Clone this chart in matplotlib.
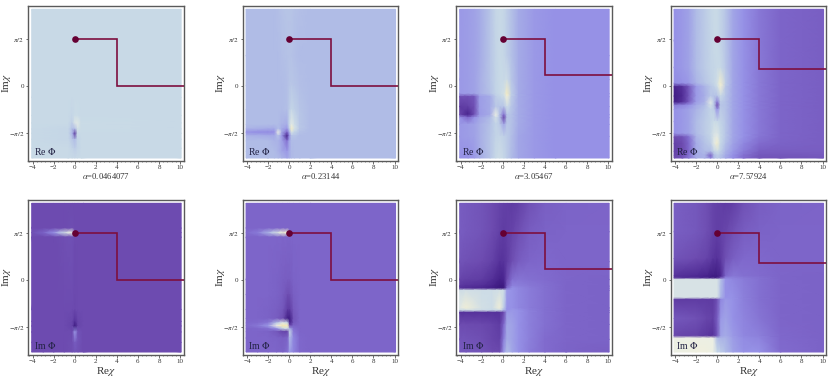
import matplotlib
matplotlib.use('Agg')
import numpy as np
import matplotlib.pyplot as plt
from matplotlib.colors import LinearSegmentedColormap
from matplotlib.ticker import AutoMinorLocator

plt.rcParams['font.family'] = ['Liberation Serif', 'DejaVu Serif']
plt.rcParams['mathtext.fontset'] = 'stix'

# shared colour scale of the density plots
scale_pos = [0.0, 0.15, 0.3, 0.4, 0.5, 0.6, 0.7, 0.85, 1.0]
scale_col = ['#2e0e6e', '#4a2590', '#6d4cb0', '#7f68cc', '#9590e6',
             '#b0bce6', '#c7d9e6', '#eef0e4', '#f8e7a8']

# values, rows from top to bottom
# --- Re, alpha=0.0464077
a_x = [-4.1, -0.6, -0.25, 0, 0.25, 0.6, 10.1]
a_y = [2.55, -0.4, -1.0, -1.25, -1.45, -1.6, -1.8, -2.1, -2.42]
a_v = [[.7, .7, .7, .7, .7, .7, .7],
       [.7, .7, .7, .7, .7, .7, .7],
       [.7, .7, .69, .71, .71, .7, .7],
       [.7, .7, .67, .78, .8, .71, .7],
       [.7, .69, .61, .6, .74, .71, .7],
       [.7, .69, .58, .22, .7, .7, .7],
       [.7, .69, .64, .6, .68, .7, .7],
       [.7, .7, .68, .66, .68, .7, .7],
       [.7, .7, .7, .7, .7, .7, .7]]

# --- Re, alpha=0.23144
b_x = [-4.1, -2, -1.4, -1.05, -0.7, -0.2, 0, 0.2, 0.5, 1, 2, 10.1]
b_y = [2.55, 1, 0, -0.8, -1.3, -1.44, -1.56, -1.68, -1.85, -2.2, -2.42]
b_v = [[.6, .6, .6, .61, .62, .63, .63, .63, .62, .61, .6, .6],
       [.6, .6, .6, .6, .61, .62, .62, .62, .61, .6, .6, .6],
       [.6, .6, .6, .6, .6, .61, .63, .64, .63, .61, .6, .6],
       [.6, .6, .6, .6, .6, .61, .65, .69, .67, .63, .6, .6],
       [.6, .6, .6, .6, .58, .57, .69, .81, .73, .64, .6, .6],
       [.58, .56, .56, .6, .56, .52, .65, .92, .75, .64, .6, .6],
       [.5, .49, .5, .84, .55, .4, .55, .75, .68, .62, .6, .6],
       [.58, .56, .56, .62, .52, .12, .48, .62, .63, .6, .6, .6],
       [.6, .6, .58, .58, .54, .42, .54, .6, .6, .6, .6, .6],
       [.6, .6, .6, .58, .55, .52, .56, .59, .6, .6, .6, .6],
       [.6, .6, .6, .6, .58, .55, .57, .59, .6, .6, .6, .6]]

# --- Re, alpha=3.05467
c_x = [-4.1, -3.3, -2.7, -2.2, -1.2, -0.66, -0.3, 0.1, 0.4, 0.8, 1.5, 3, 5, 10.1]
c_y = [2.55, 1.0, 0.2, -0.27, -0.37, -0.7, -0.97, -1.07, -1.3, -1.7, -2.42]
c_v = [[.52, .53, .54, .56, .63, .69, .7, .69, .66, .62, .56, .52, .5, .5],
       [.52, .53, .54, .56, .63, .68, .7, .69, .66, .62, .56, .52, .5, .5],
       [.52, .53, .54, .57, .63, .68, .7, .7, .72, .64, .56, .52, .5, .5],
       [.52, .53, .54, .57, .62, .68, .7, .74, .93, .67, .56, .52, .5, .5],
       [.32, .32, .34, .53, .56, .66, .68, .72, .88, .66, .56, .52, .5, .5],
       [.24, .26, .32, .53, .56, .64, .63, .63, .72, .64, .56, .52, .5, .5],
       [.28, .14, .32, .52, .56, .84, .62, .42, .63, .62, .56, .52, .5, .5],
       [.5, .4, .5, .55, .6, .74, .62, .28, .62, .62, .56, .52, .5, .5],
       [.52, .53, .54, .57, .62, .68, .65, .55, .64, .62, .56, .52, .5, .5],
       [.52, .53, .54, .57, .63, .68, .69, .67, .65, .61, .55, .52, .5, .5],
       [.5, .5, .52, .56, .63, .7, .72, .69, .65, .6, .55, .52, .5, .5]]

# --- Re, alpha=7.57924
d_x = [-4.1, -3.3, -2.7, -2, -1.2, -.63, -.3, 0, .3, .8, 1.5, 2.5, 4, 6, 10.1]
d_y = [2.55, 1.5, .6, .08, -.04, -.35, -.55, -.66, -.8, -1.2, -1.6, -1.72, -1.94, -2.2, -2.33, -2.42]
d_v = [[.5, .52, .54, .6, .65, .69, .7, .7, .68, .63, .55, .5, .44, .39, .37],
       [.5, .52, .54, .6, .65, .68, .7, .7, .68, .63, .55, .5, .44, .39, .37],
       [.5, .52, .54, .6, .65, .68, .69, .7, .7, .64, .55, .5, .44, .39, .37],
       [.49, .5, .52, .58, .63, .67, .69, .74, .9, .66, .55, .5, .44, .39, .37],
       [.14, .2, .34, .52, .58, .64, .67, .72, .88, .64, .55, .5, .44, .39, .37],
       [.1, .18, .34, .52, .57, .64, .62, .62, .7, .63, .55, .5, .44, .39, .37],
       [.12, .2, .36, .53, .58, .8, .64, .44, .65, .62, .55, .5, .44, .39, .37],
       [.45, .47, .5, .56, .6, .74, .64, .3, .63, .62, .55, .5, .44, .39, .37],
       [.5, .52, .54, .58, .63, .68, .66, .5, .65, .62, .55, .5, .44, .39, .37],
       [.5, .52, .54, .6, .65, .68, .71, .7, .68, .63, .55, .5, .44, .39, .37],
       [.5, .52, .54, .6, .65, .69, .76, .78, .7, .63, .55, .5, .44, .39, .37],
       [.3, .33, .42, .58, .64, .68, .78, .82, .7, .63, .55, .5, .43, .39, .37],
       [.26, .3, .4, .56, .62, .66, .8, .9, .7, .61, .54, .48, .41, .38, .37],
       [.26, .3, .4, .56, .6, .6, .68, .72, .67, .58, .52, .45, .37, .36, .36],
       [.28, .32, .42, .56, .58, .38, .6, .66, .63, .56, .5, .42, .34, .34, .35],
       [.3, .34, .44, .56, .58, .46, .6, .64, .61, .55, .49, .41, .33, .33, .34]]

# --- Im, alpha=0.0464077
e_x = [-4.1, -3, -2, -1, -0.25, 0, 0.3, 0.8, 10.1]
e_y = [2.55, 1.72, 1.57, 1.42, -1.0, -1.4, -1.55, -1.75, -2.1, -2.42]
e_v = [[.3, .3, .3, .3, .3, .3, .3, .3, .3],
       [.3, .3, .3, .3, .31, .3, .3, .3, .3],
       [.32, .38, .5, .72, .86, .3, .3, .3, .3],
       [.3, .3, .3, .31, .32, .3, .3, .3, .3],
       [.3, .3, .3, .3, .3, .29, .3, .3, .3],
       [.3, .3, .3, .3, .28, .2, .28, .3, .3],
       [.3, .3, .3, .3, .27, .08, .28, .3, .3],
       [.3, .3, .3, .3, .3, .52, .33, .3, .3],
       [.3, .3, .3, .3, .31, .36, .33, .3, .3],
       [.3, .3, .3, .3, .31, .33, .32, .3, .3]]

# --- Im, alpha=0.23144
f_x = [-4.1, -3, -2, -1.2, -.6, -.15, .05, .4, 1, 2, 10.1]
f_y = [2.55, 1.72, 1.57, 1.42, 0, -.5, -1, -1.3, -1.45, -1.54, -1.64, -1.74, -1.95, -2.42]
f_v = [[.39, .39, .39, .39, .39, .39, .39, .39, .39, .39, .39],
       [.39, .39, .39, .39, .39, .39, .39, .39, .39, .39, .39],
       [.41, .45, .58, .74, .88, .9, .39, .39, .39, .39, .39],
       [.39, .39, .39, .39, .39, .39, .39, .39, .39, .39, .39],
       [.39, .39, .39, .38, .37, .36, .36, .38, .39, .39, .39],
       [.39, .39, .39, .38, .36, .31, .32, .37, .39, .39, .39],
       [.39, .39, .38, .37, .34, .24, .24, .35, .39, .39, .39],
       [.39, .39, .38, .36, .31, .1, .1, .33, .39, .39, .39],
       [.4, .41, .44, .62, .8, .7, .14, .35, .39, .39, .39],
       [.41, .44, .52, .85, .98, .95, .3, .38, .39, .39, .39],
       [.39, .4, .42, .5, .7, .74, .56, .42, .39, .39, .39],
       [.39, .39, .38, .34, .27, .28, .68, .44, .39, .39, .39],
       [.39, .39, .39, .38, .37, .38, .6, .48, .4, .39, .39],
       [.39, .39, .39, .39, .38, .42, .52, .47, .4, .39, .39]]

# --- Im, alpha=3.05467
g_x = [-4.1, -3.5, -2, -1, -.3, .1, .4, .9, 1.5, 2.5, 4, 6, 10.1]
g_y = [2.55, 1.6, .6, 0, -.22, -.29, -.36, -.95, -1.03, -1.1, -1.5, -2, -2.42]
g_v = [[.36, .35, .33, .3, .27, .26, .25, .24, .26, .32, .37, .38, .39],
       [.36, .35, .33, .3, .26, .24, .25, .27, .31, .36, .38, .39, .39],
       [.33, .32, .3, .26, .2, .21, .24, .31, .36, .39, .4, .39, .39],
       [.27, .26, .24, .19, .13, .15, .3, .42, .43, .42, .41, .39, .38],
       [.22, .2, .18, .14, .08, .09, .36, .47, .46, .44, .42, .39, .38],
       [.2, .18, .16, .12, .08, .09, .42, .5, .48, .45, .42, .39, .38],
       [.72, .74, .72, .72, .74, .72, .52, .5, .48, .45, .42, .39, .38],
       [.8, .88, .74, .72, .88, .66, .5, .5, .48, .45, .42, .39, .38],
       [.7, .72, .72, .7, .72, .58, .5, .52, .5, .46, .42, .39, .38],
       [.2, .2, .2, .2, .2, .3, .52, .52, .5, .46, .42, .39, .38],
       [.3, .3, .29, .27, .24, .4, .55, .54, .5, .46, .42, .39, .38],
       [.33, .33, .31, .28, .26, .46, .56, .54, .5, .46, .41, .39, .38],
       [.34, .34, .33, .3, .29, .52, .6, .55, .5, .45, .41, .38, .37]]

# --- Im, alpha=7.57924
h_x = [-4.1, -2, -1, -.4, 0, .35, .8, 1.5, 2.5, 4, 6, 10.1]
h_y = [2.55, 1.6, .7, .12, .06, 0, -.6, -.67, -1.3, -1.88, -1.96, -2.42]
h_v = [[.37, .34, .31, .27, .26, .25, .24, .25, .32, .36, .38, .39],
       [.37, .34, .31, .27, .25, .26, .28, .32, .36, .38, .39, .39],
       [.33, .3, .27, .22, .2, .24, .32, .37, .4, .4, .39, .39],
       [.2, .17, .14, .1, .1, .16, .4, .44, .42, .41, .39, .38],
       [.2, .17, .14, .1, .1, .3, .46, .46, .44, .42, .39, .38],
       [.76, .76, .76, .76, .76, .62, .5, .48, .45, .42, .39, .38],
       [.76, .76, .76, .76, .76, .58, .5, .5, .46, .42, .39, .38],
       [.24, .24, .24, .24, .32, .48, .52, .5, .46, .42, .39, .38],
       [.34, .32, .28, .26, .36, .52, .54, .5, .47, .43, .39, .38],
       [.28, .26, .22, .2, .34, .54, .56, .52, .48, .46, .4, .38],
       [.84, .84, .84, .84, .6, .58, .58, .53, .49, .47, .4, .38],
       [.84, .86, .86, .84, .7, .66, .6, .54, .5, .5, .41, .38]]

re_panels = [(a_x, a_y, a_v), (b_x, b_y, b_v), (c_x, c_y, c_v), (d_x, d_y, d_v)]
im_panels = [(e_x, e_y, e_v), (f_x, f_y, f_v), (g_x, g_y, g_v), (h_x, h_y, h_v)]

alpha_labels = ['0.0464077', '0.23144', '3.05467', '7.57924']
path_end = [0.0, 0.0, 0.37, 0.56]  # height of the last leg of the contour
path_x = [0, 4, 4, 10.4]
path_top = np.pi / 2

xtick_vals = [-4, -2, 0, 2, 4, 6, 8, 10]
xtick_labels = ['\u22124', '\u22122', '0', '2', '4', '6', '8', '10']
ytick_vals = [-np.pi / 2, 0, np.pi / 2]
ytick_labels = [r'$-\pi/2$', '0', r'$\pi/2$']

# pixel layout of the reference
col_left = [28.3, 242.7, 456.3, 670.7]
col_w = 155.6
row_top = [6.0, 200.0]
row_h = 155.0
W, H = 831, 380

cmap = LinearSegmentedColormap.from_list('phi', list(zip(scale_pos, scale_col)))
FRAME = '#5a5a5a'
TEXT = '#333333'
LINE = '#7d0f3f'
DOT = '#650033'


def draw_panel(left, top, panel, end_y, name, bottom_row, alpha_label):
    ax = fig.add_axes([left / W, 1 - (top + row_h) / H, col_w / W, row_h / H])
    xs, ys, vals = panel
    ax.pcolormesh(xs, ys, np.array(vals), cmap=cmap, vmin=0, vmax=1,
                  shading='gouraud', rasterized=True)
    ax.set_xlim(-4.42, 10.36)
    ax.set_ylim(-2.52, 2.66)

    # contour in the chi plane
    ax.plot(path_x, [path_top, path_top, end_y, end_y], color=LINE, lw=1.2,
            solid_joinstyle='miter', zorder=3)
    ax.plot(path_x[0], path_top, 'o', color=DOT, ms=4.8, mew=0, zorder=4)

    ax.text(-3.9, -2.2, name, fontsize=7.0, color='#222244', va='center', ha='left')

    ax.set_xticks(xtick_vals)
    ax.set_xticklabels(xtick_labels)
    ax.set_yticks(ytick_vals)
    ax.set_yticklabels(ytick_labels)
    ax.xaxis.set_minor_locator(AutoMinorLocator(5))
    ax.tick_params(axis='both', which='major', length=1.8, width=0.5, labelsize=5.0,
                   color=TEXT, labelcolor=TEXT, pad=1.2)
    ax.tick_params(axis='x', which='minor', length=1.0, width=0.4, color=TEXT)

    for s in ax.spines.values():
        s.set_color(FRAME)
        s.set_linewidth(1.0)

    ax.set_ylabel(r'Im$\chi$', fontsize=8.0, color=TEXT, labelpad=0, va='center')
    ax.yaxis.set_label_coords(-0.143, 0.5)
    if bottom_row:
        ax.set_xlabel(r'Re$\chi$', fontsize=8.0, color=TEXT, va='center')
        ax.xaxis.set_label_coords(0.5, -0.106)
    else:
        ax.set_xlabel(r'$\alpha$=' + alpha_label, fontsize=6.2, color=TEXT, va='center')
        ax.xaxis.set_label_coords(0.5, -0.099)
    return ax


fig = plt.figure(figsize=(W / 100, H / 100), dpi=100, facecolor='white')

for i in range(4):
    draw_panel(col_left[i], row_top[0], re_panels[i], path_end[i], r'Re $\Phi$', False, alpha_labels[i])
    draw_panel(col_left[i], row_top[1], im_panels[i], path_end[i], r'Im $\Phi$', True, alpha_labels[i])

fig.savefig('out.png', dpi=100)
